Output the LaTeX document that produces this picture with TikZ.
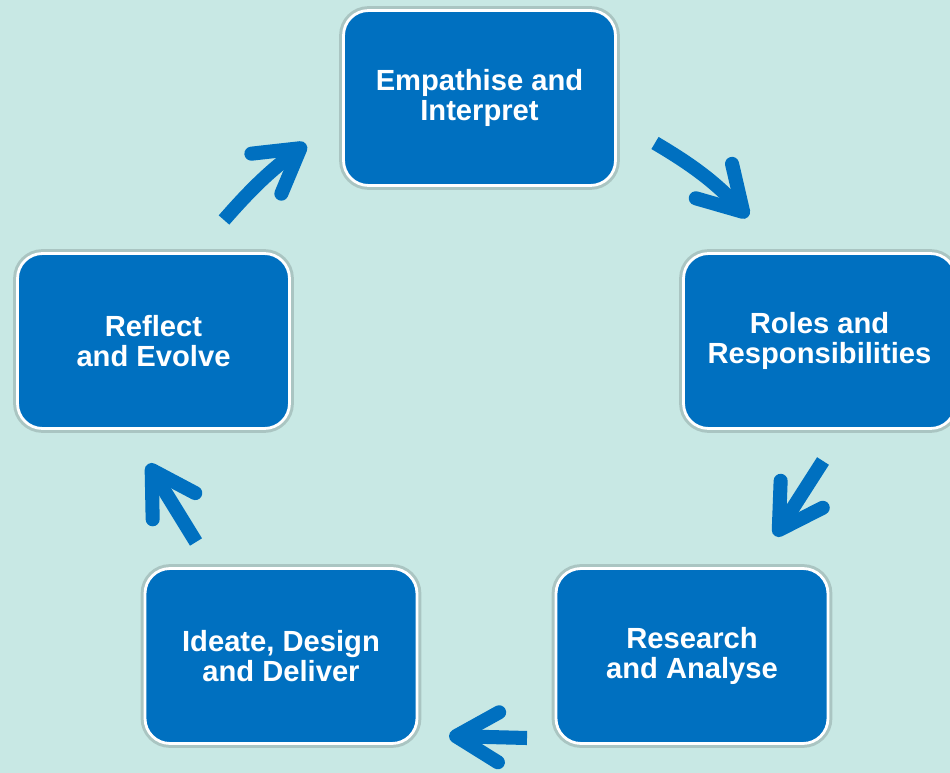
\documentclass[tikz,border=0pt]{standalone}
\usepackage{fontspec}
\setmainfont{Liberation Sans}
\usetikzlibrary{arrows.meta,
                positioning}
\definecolor{bgteal}{RGB}{200,232,228}
\definecolor{phaseblue}{RGB}{0,112,192}
\tikzset{
        phase/.style={draw=white, line width=1.6pt, fill=phaseblue,
                      rounded corners=0.5cm, minimum width=5.44cm,
                      minimum height=3.5cm, align=center, text=white,
                      font=\fontsize{16.6}{17.5}\selectfont\bfseries,
                      preaction={draw=black, draw opacity=0.15, line width=5pt}},
        cyclearrow/.style={draw=phaseblue, line width=8pt,
                           -{Straight Barb[round, length=0.85cm, width=1cm, line width=8pt]}},
 }

\begin{document}
\begin{tikzpicture}[x=0.02cm, y=-0.02cm]
    \fill[bgteal] (0,0) rectangle (950,773);
    \useasboundingbox (0,0) rectangle (950,773);
    \clip (0,0) rectangle (950,773);

    \node[phase] (emp) at (479.5,98) {Empathise and\\Interpret};
    \node[phase] (roles) at (819.5,341) {Roles and\\Responsibilities};
    \node[phase] (research) at (692,656) {Research\\and Analyse};
    \node[phase] (ideate) at (281,656) {Ideate, Design\\and Deliver};
    \node[phase] (reflect) at (153.5,341) {Reflect\\and Evolve};

    % arrow ends
    \coordinate (er1) at (655,143);
    \coordinate (er2) at (748,217);
    \coordinate (rr1) at (823,461);
    \coordinate (rr2) at (775,536);
    \coordinate (ri1) at (527,738);
    \coordinate (ri2) at (449,736);
    \coordinate (ir1) at (196,542);
    \coordinate (ir2) at (148,464);
    \coordinate (re1) at (224,220);
    \coordinate (re2) at (306,144);

    \draw[cyclearrow] (er1) to[bend left=8] (er2);
    \draw[cyclearrow] (rr1) -- (rr2);
    \draw[cyclearrow] (ri1) -- (ri2);
    \draw[cyclearrow] (ir1) -- (ir2);
    \draw[cyclearrow] (re1) to[bend left=6] (re2);
\end{tikzpicture}
\end{document}
